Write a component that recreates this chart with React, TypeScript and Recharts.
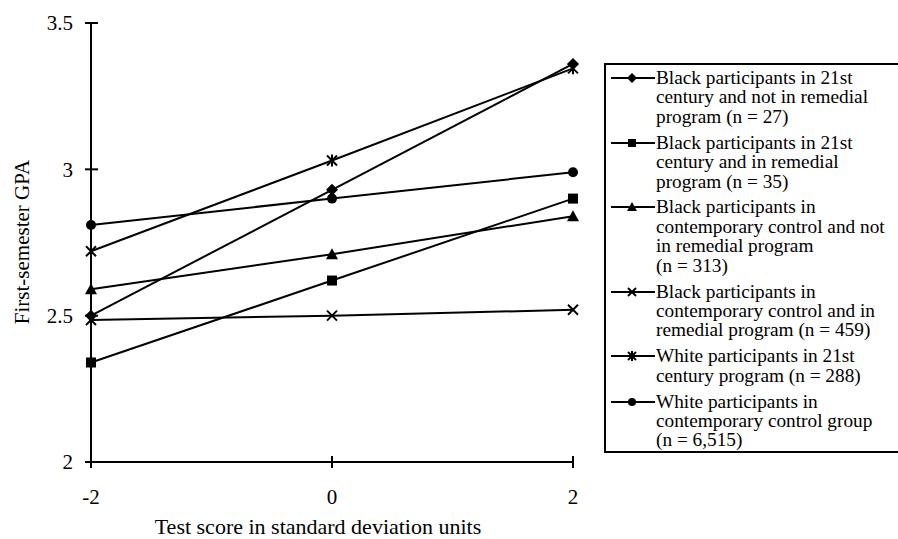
import React from "react";
import { LineChart, Line, XAxis, YAxis } from "recharts";

const xValues = [-2, 0, 2];
const xTicks = [-2, 0, 2];
const yTicks = [2, 2.5, 3, 3.5];

const blackCenturyNotRemedial = [2.5, 2.93, 3.36];
const blackCenturyRemedial = [2.34, 2.62, 2.9];
const blackControlNotRemedial = [2.59, 2.71, 2.84];
const blackControlRemedial = [2.485, 2.5, 2.52];
const whiteCentury = [2.72, 3.03, 3.345];
const whiteControl = [2.81, 2.9, 2.99];

const seriesKeys = ["bcn", "bcr", "bkn", "bkr", "wc", "wk"];
const seriesShapes = ["diamond", "square", "triangle", "cross", "star", "circle"];
const seriesLabels = [
  ["Black participants in 21st", "century and not in remedial", "program (n = 27)"],
  ["Black participants in 21st", "century and in remedial", "program (n = 35)"],
  ["Black participants in", "contemporary control and not", "in remedial program", "(n = 313)"],
  ["Black participants in", "contemporary control and in", "remedial program (n = 459)"],
  ["White participants in 21st", "century program (n = 288)"],
  ["White participants in", "contemporary control group", "(n = 6,515)"],
];
const seriesValues = [
  blackCenturyNotRemedial,
  blackCenturyRemedial,
  blackControlNotRemedial,
  blackControlRemedial,
  whiteCentury,
  whiteControl,
];

const data = xValues.map((x, i) => {
  const row: Record<string, number> = { x };
  seriesKeys.forEach((k, s) => {
    row[k] = seriesValues[s][i];
  });
  return row;
});

const FONT = '"Liberation Serif", "Times New Roman", serif';

function Marker({ shape, cx, cy, r = 5 }: { shape: string; cx: number; cy: number; r?: number }) {
  switch (shape) {
    case "diamond":
      return (
        <polygon
          points={`${cx},${cy - r - 1} ${cx + r + 1},${cy} ${cx},${cy + r + 1} ${cx - r - 1},${cy}`}
          fill="#000"
        />
      );
    case "square":
      return <rect x={cx - r} y={cy - r} width={r * 2} height={r * 2} fill="#000" />;
    case "triangle":
      return (
        <polygon
          points={`${cx},${cy - r - 1} ${cx + r + 1},${cy + r} ${cx - r - 1},${cy + r}`}
          fill="#000"
        />
      );
    case "cross":
      return (
        <g stroke="#000" strokeWidth={2}>
          <line x1={cx - r} y1={cy - r} x2={cx + r} y2={cy + r} />
          <line x1={cx - r} y1={cy + r} x2={cx + r} y2={cy - r} />
        </g>
      );
    case "star":
      return (
        <g stroke="#000" strokeWidth={2}>
          <line x1={cx - r} y1={cy - r} x2={cx + r} y2={cy + r} />
          <line x1={cx - r} y1={cy + r} x2={cx + r} y2={cy - r} />
          <line x1={cx} y1={cy - r - 1} x2={cx} y2={cy + r + 1} />
        </g>
      );
    default:
      return <circle cx={cx} cy={cy} r={r} fill="#000" />;
  }
}

const dotFor = (shape: string) => (props: any) => (
  <Marker key={`${shape}-${props.index}`} shape={shape} cx={props.cx} cy={props.cy} />
);

const YTick = (props: any) => {
  const { x, y, payload } = props;
  return (
    <g>
      <line x1={x - 6} x2={x + 7} y1={y} y2={y} stroke="#000" strokeWidth={2} />
      <text x={x - 18} y={y} dy="0.35em" textAnchor="end" fontFamily={FONT} fontSize={21} fill="#000">
        {payload.value}
      </text>
    </g>
  );
};

const XTick = (props: any) => {
  const { x, y, payload } = props;
  return (
    <g>
      <line x1={x} x2={x} y1={y - 6} y2={y + 6} stroke="#000" strokeWidth={2} />
      <text x={x} y={y + 42} textAnchor="middle" fontFamily={FONT} fontSize={21} fill="#000">
        {payload.value}
      </text>
    </g>
  );
};

function LegendBox() {
  return (
    <div
      style={{
        position: "absolute",
        left: 604,
        top: 63,
        width: 300,
        height: 390,
        border: "2px solid #000",
        boxSizing: "border-box",
        paddingTop: 3,
        fontFamily: FONT,
        fontSize: 19.3,
        lineHeight: "19.4px",
        color: "#000",
        background: "#fff",
      }}
    >
      {seriesLabels.map((lines, i) => (
        <div key={i} style={{ position: "relative", paddingLeft: 50, marginBottom: 6.5 }}>
          <svg width={46} height={20} style={{ position: "absolute", left: 5, top: 0 }}>
            <line x1={0} x2={44} y1={10} y2={10} stroke="#000" strokeWidth={2} />
            <Marker shape={seriesShapes[i]} cx={21} cy={10} r={4} />
          </svg>
          {lines.map((t, j) => (
            <div key={j} style={{ whiteSpace: "nowrap" }}>
              {t}
            </div>
          ))}
        </div>
      ))}
    </div>
  );
}

export default function App() {
  return (
    <div style={{ position: "absolute", left: 0, top: 0, width: 898, height: 539, background: "#fff", overflow: "hidden" }}>
      <LineChart
        width={898}
        height={539}
        data={data}
        margin={{ top: 23, right: 325, bottom: 0, left: 0 }}
      >
        <XAxis
          dataKey="x"
          type="number"
          domain={[-2, 2]}
          ticks={xTicks}
          height={77}
          tickSize={0}
          tickMargin={0}
          tickLine={false}
          axisLine={{ stroke: "#000", strokeWidth: 2 }}
          tick={<XTick />}
          label={{
            content: () => (
              <text x={318} y={534} textAnchor="middle" fontFamily={FONT} fontSize={22} fill="#000">
                Test score in standard deviation units
              </text>
            ),
          }}
        />
        <YAxis
          type="number"
          domain={[2, 3.5]}
          ticks={yTicks}
          width={91}
          tickSize={0}
          tickMargin={0}
          tickLine={false}
          axisLine={{ stroke: "#000", strokeWidth: 2 }}
          tick={<YTick />}
          label={{
            content: () => (
              <text
                x={29}
                y={242}
                transform="rotate(-90 29 242)"
                textAnchor="middle"
                fontFamily={FONT}
                fontSize={21}
                fill="#000"
              >
                First-semester GPA
              </text>
            ),
          }}
        />
        {seriesKeys.map((k, i) => (
          <Line
            key={k}
            dataKey={k}
            stroke="#000"
            strokeWidth={2}
            type="linear"
            dot={dotFor(seriesShapes[i])}
            isAnimationActive={false}
          />
        ))}
      </LineChart>
      <LegendBox />
    </div>
  );
}
